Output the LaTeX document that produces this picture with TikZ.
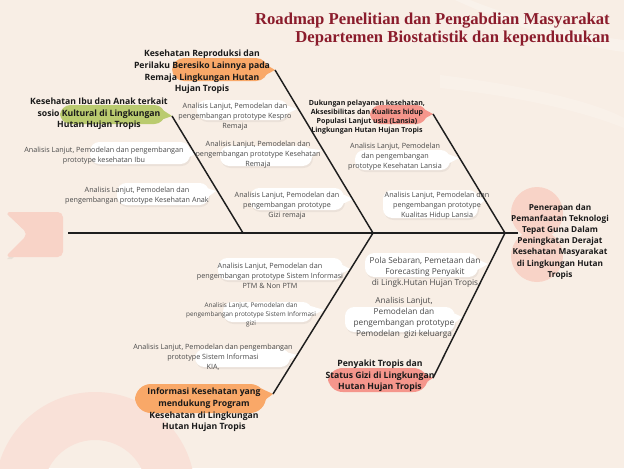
\documentclass[tikz,border=0pt]{standalone}
\usepackage{fontspec}
\setmainfont{Open Sans}
\newfontfamily\titlefont{Liberation Serif}
\definecolor{bgbeige}{HTML}{F8EEE5}
\definecolor{titlered}{HTML}{8B1C2C}
\definecolor{boneblack}{HTML}{1E1E1E}
\definecolor{greytext}{HTML}{4A4A4A}
\definecolor{boldtext}{HTML}{1A1A1A}
\definecolor{leafgreen}{HTML}{BACB6F}
\definecolor{softorange}{HTML}{F9A868}
\definecolor{salmon}{HTML}{F5968C}
\definecolor{blushpink}{HTML}{F8D3C7}
\definecolor{ringpink}{HTML}{F9E1D8}
\begin{document}
\begin{tikzpicture}[x=0.75pt,y=-0.75pt,
	bone/.style={line width=1.1pt,draw=boneblack},
	grey txt/.style={align=center,text=greytext,inner sep=0pt,font=\fontsize{5.4}{7.5}\selectfont},
	bold txt/.style={align=center,text=boldtext,inner sep=0pt,font=\bfseries\fontsize{6.5}{8.7}\selectfont},
	title txt/.style={anchor=east,text=titlered,inner sep=0pt,font=\titlefont\bfseries\fontsize{12.5}{15}\selectfont},
	bub/.style={fill=white,rounded corners=7},
	shade/.style={fill=black,opacity=0.05,rounded corners=7}]
	%background--------------------------------
	\fill[bgbeige] (0,0) rectangle (624,468);
	\useasboundingbox (0,0) rectangle (624,468);
	\fill[white,opacity=0.25] (470,0) .. controls (520,20) and (580,35) .. (624,40) -- (624,52) .. controls (570,45) and (510,25) .. (455,0) -- cycle; %swoosh top
	\fill[white,opacity=0.18] (440,75) .. controls (520,85) and (590,100) .. (624,118) -- (624,128) .. controls (580,110) and (510,95) .. (440,88) -- cycle; %swoosh lower
	\fill[ringpink,even odd rule] (95,492) circle[radius=100] (95,492) circle[radius=52]; %ring bottom left
	\fill[black,opacity=0.06] (7,214) -- (31,236) -- (7,259) -- (12,259) -- (34,236) -- (12,214) -- cycle; %flag shadow
	\fill[blushpink,rounded corners=4] (5,212) -- (63,212) -- (63,257) -- (5,257) -- (28,234) -- cycle; %flag tail
	\fill[blushpink] (537,213) circle[radius=26]; %head blob top
	\fill[blushpink] (537,256) circle[radius=26]; %head blob bottom
	%title-------------------------------------
	\node[title txt] (title1) at (610,21) {Roadmap Penelitian dan Pengabdian Masyarakat};
	\node[title txt] (title2) at (610,38) {Departemen Biostatistik dan kependudukan};
	%spine and bones---------------------------
	\coordinate (tail) at (68,233);
	\coordinate (head) at (518,233);
	\coordinate (v1) at (243,233); %vertex 1
	\coordinate (v2) at (373,233); %vertex 2
	\coordinate (v3) at (505,233); %vertex 3
	\coordinate (ibutip) at (172,116);
	\coordinate (kesprotip) at (275,70);
	\coordinate (lansiatip) at (433,114);
	\coordinate (infotip) at (273,394);
	\coordinate (tropistip) at (433,378);
	%callout shapes top
	\fill[leafgreen,rounded corners=8] (60,105) rectangle (165,124); %green
	\fill[leafgreen] (158,107) -- (ibutip) -- (158,121) -- cycle;
	\fill[softorange,rounded corners=9] (172,58) rectangle (268,81); %orange top
	\fill[softorange] (260,61) -- (kesprotip) -- (260,78) -- cycle;
	\fill[salmon,rounded corners=8] (370,105) rectangle (427,124); %pink top
	\fill[salmon] (420,107) -- (lansiatip) -- (420,121) -- cycle;
	%callout shapes bottom
	\fill[softorange,rounded corners=12] (135,384) rectangle (266,413); %orange bottom
	\fill[softorange] (258,387) -- (infotip) -- (258,405) -- cycle;
	\fill[salmon,rounded corners=11] (328,368) rectangle (428,392); %pink bottom
	\fill[salmon] (420,371) -- (tropistip) -- (420,386) -- cycle;
	%white bubbles
	\fill[shade] (91,144) rectangle (191,166); \fill[bub] (90,142) rectangle (190,164); \fill[white] (182,145) -- (197,153) -- (182,161) -- cycle; %a
	\fill[shade] (118,185) rectangle (210,207); \fill[bub] (117,183) rectangle (209,205); \fill[white] (201,186) -- (216,191) -- (201,202) -- cycle; %b
	\fill[shade] (198,102) rectangle (289,122); \fill[bub] (197,100) rectangle (288,120); \fill[white] (280,103) -- (297,109) -- (280,117) -- cycle; %c
	\fill[shade] (221,148) rectangle (313,168); \fill[bub] (220,146) rectangle (312,166); \fill[white] (304,148) -- (321,150) -- (304,163) -- cycle; %d
	\fill[shade] (251,190) rectangle (345,212); \fill[bub] (250,188) rectangle (344,210); \fill[white] (336,191) -- (353,199) -- (336,207) -- cycle; %e
	\fill[shade] (356,152) rectangle (451,172); \fill[bub] (355,150) rectangle (450,170); \fill[white] (442,152) -- (459,158) -- (442,167) -- cycle; %f
	\fill[shade] (384,192) rectangle (479,220); \fill[bub] (383,190) rectangle (478,218); \fill[white] (470,193) -- (485,200) -- (470,213) -- cycle; %g
	\fill[shade] (219,260) rectangle (344,282); \fill[bub] (218,258) rectangle (343,280); \fill[white] (335,261) -- (350,269) -- (335,277) -- cycle; %h
	\fill[shade] (224,304) rectangle (313,324); \fill[bub] (223,302) rectangle (312,322); \fill[white] (304,304) -- (324,310) -- (304,319) -- cycle; %i
	\fill[shade] (196,351) rectangle (291,369); \fill[bub] (195,349) rectangle (290,367); \fill[white] (282,351) -- (297,355) -- (282,364) -- cycle; %j
	\fill[shade] (366,255) rectangle (479,279); \fill[bub] (365,253) rectangle (478,277); \fill[white] (470,256) -- (488,264) -- (470,274) -- cycle; %k
	\fill[shade] (346,309) rectangle (456,334); \fill[bub] (345,307) rectangle (455,332); \fill[white] (447,310) -- (462,317) -- (447,329) -- cycle; %l
	%lines
	\draw[bone] (tail) -- (head); %spine
	\draw[bone] (ibutip) -- (v1); %bone ibu anak
	\draw[bone] (kesprotip) -- (v2); %bone kespro
	\draw[bone] (lansiatip) -- (v3); %bone lansia
	\draw[bone] (infotip) -- (v2); %bone informasi
	\draw[bone] (tropistip) -- (v3); %bone tropis
	%main labels-------------------------------
	\node[bold txt] (ibu) at (99,114) {Kesehatan Ibu dan Anak terkait\\sosio Kultural di Lingkungan\\Hutan Hujan Tropis};
	\node[bold txt] (kespro) at (202,72) {Kesehatan Reproduksi dan\\Perilaku Beresiko Lainnya pada\\Remaja Lingkungan Hutan\\Hujan Tropis};
	\node[bold txt,font=\bfseries\fontsize{5.3}{6.8}\selectfont] (lansia) at (367,117.5) {Dukungan pelayanan kesehatan,\\Aksesibilitas dan Kualitas hidup\\Populasi Lanjut usia (Lansia)\\Lingkungan Hutan Hujan Tropis};
	\node[bold txt,font=\bfseries\fontsize{6.2}{8.4}\selectfont] (tujuan) at (560,241.5) {Penerapan dan\\Pemanfaatan Teknologi\\Tepat Guna Dalam\\Peningkatan Derajat\\Kesehatan Masyarakat\\di Lingkungan Hutan\\Tropis};
	\node[bold txt] (info) at (204,410) {Informasi Kesehatan yang\\mendukung Program\\Kesehatan di Lingkungan\\Hutan Hujan Tropis};
	\node[bold txt] (tropis) at (380,376) {Penyakit Tropis dan\\Status Gizi di Lingkungan\\Hutan Hujan Tropis};
	%sub labels--------------------------------
	\node[grey txt] (ibuA) at (104,156) {Analisis Lanjut, Pemodelan dan pengembangan\\prototype kesehatan Ibu};
	\node[grey txt] (anakB) at (137,196) {Analisis Lanjut, Pemodelan dan\\pengembangan prototype Kesehatan Anak};
	\node[grey txt] (kesproC) at (235,116.5) {Analisis Lanjut, Pemodelan dan\\pengembangan prototype Kespro\\Remaja};
	\node[grey txt] (remajaD) at (258,155) {Analisis Lanjut, Pemodelan dan\\pengembangan prototype Kesehatan\\Remaja};
	\node[grey txt] (giziE) at (287,206) {Analisis Lanjut, Pemodelan dan\\pengembangan prototype\\Gizi remaja};
	\node[grey txt] (lansiaF) at (395,157) {Analisis Lanjut, Pemodelan\\dan pengembangan\\prototype Kesehatan Lansia};
	\node[grey txt] (hidupG) at (437,206) {Analisis Lanjut, Pemodelan dan\\pengembangan prototype\\Kualitas Hidup Lansia};
	\node[grey txt] (ptmH) at (270,276) {Analisis Lanjut, Pemodelan dan\\pengembangan prototype Sistem Informasi\\PTM \& Non PTM};
	\node[grey txt,font=\fontsize{4.8}{6.8}\selectfont] (siI) at (251,315) {Analisis Lanjut, Pemodelan dan\\pengembangan prototype Sistem Informasi\\gizi};
	\node[grey txt] (kiaJ) at (213,357) {Analisis Lanjut, Pemodelan dan pengembangan\\prototype Sistem Informasi\\KIA,};
	\node[grey txt,font=\fontsize{6.2}{8.2}\selectfont] (polaK) at (425,272) {Pola Sebaran, Pemetaan dan\\Forecasting Penyakit\\di Lingk.Hutan Hujan Tropis};
	\node[grey txt,font=\fontsize{6.2}{8.2}\selectfont] (keluargaL) at (404,318) {Analisis Lanjut,\\Pemodelan dan\\pengembangan prototype\\Pemodelan\ \ gizi keluarga};
\end{tikzpicture}
\end{document}
